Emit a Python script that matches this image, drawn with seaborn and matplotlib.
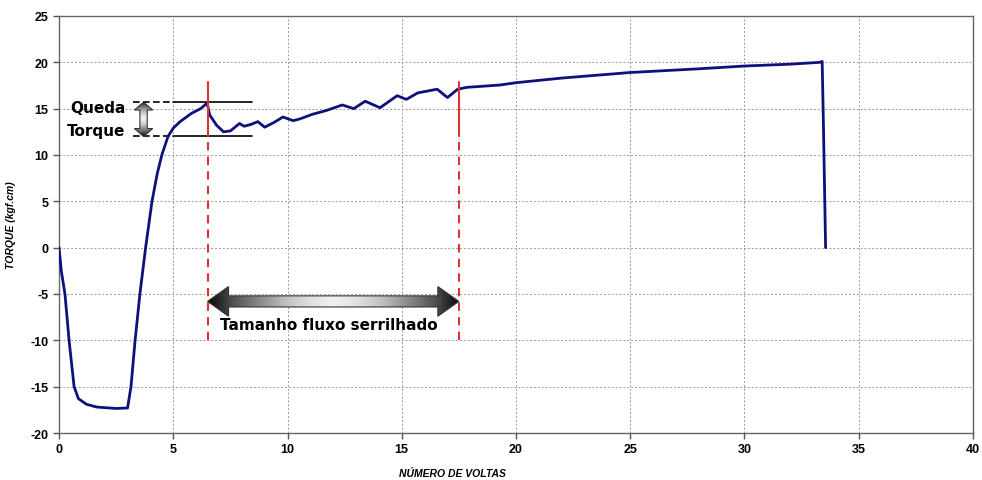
import numpy as np
import pandas as pd
import matplotlib
matplotlib.use("Agg")
import matplotlib.pyplot as plt
from matplotlib.patches import Polygon
import seaborn as sns

# ----------------------------------------------------------
# Data
# ----------------------------------------------------------
voltas = [0, 0.1, 0.26, 0.44, 0.66, 0.85, 1.2, 1.65, 2.5, 3.0, 3.15, 3.33, 3.54,
          3.79, 4.07, 4.3, 4.5, 4.77, 5.0, 5.3, 5.8, 6.2, 6.48, 6.6, 6.9, 7.2,
          7.5, 7.9, 8.1, 8.4, 8.7, 9.0, 9.4, 9.8, 10.25, 10.55, 11.1, 11.7, 12.4,
          12.9, 13.4, 14.05, 14.8, 15.2, 15.7, 16.55, 17.0, 17.45, 17.85, 19.3,
          20, 22, 25, 28, 30, 32, 33.3, 33.4, 33.45, 33.55]
torque = [0, -2.5, -5, -10, -15, -16.3, -16.9, -17.2, -17.35, -17.3, -15, -10, -5,
          0, 5, 8, 10, 12, 12.9, 13.6, 14.5, 15.0, 15.6, 14.3, 13.2, 12.5,
          12.6, 13.4, 13.1, 13.3, 13.6, 13.0, 13.5, 14.1, 13.7, 13.9, 14.4, 14.8, 15.4,
          15.0, 15.8, 15.1, 16.4, 16.0, 16.7, 17.1, 16.2, 17.1, 17.3, 17.55,
          17.8, 18.3, 18.9, 19.3, 19.6, 19.8, 20.0, 20.1, 14, 0]

df = pd.DataFrame({"voltas": voltas, "torque": torque})

# annotation values
serr_start = 6.5
serr_end = 17.5
red_top = 17.9
red_mid = 12.0
red_bottom = -10.0
queda_high = 15.7
queda_low = 12.0
queda_x = 3.7
arrow_y = -5.8

x_ticks = list(range(0, 41, 5))
y_ticks = list(range(-20, 26, 5))

# ----------------------------------------------------------
# Style
# ----------------------------------------------------------
sns.set_style("white")
plt.rcParams["font.family"] = ["Liberation Sans Narrow", "Liberation Sans", "DejaVu Sans"]
plt.rcParams["axes.unicode_minus"] = False
plt.rcParams["text.color"] = "black"
plt.rcParams["axes.labelcolor"] = "black"
plt.rcParams["xtick.color"] = "black"
plt.rcParams["ytick.color"] = "black"

fig = plt.figure(figsize=(9.82, 4.81), dpi=100)
ax = fig.add_axes([0.0601, 0.0977, 0.9307, 0.867])

sns.lineplot(data=df, x="voltas", y="torque", sort=False, estimator=None,
             color="#10107a", linewidth=2.0, ax=ax, zorder=5)

ax.set_xlim(0, 40)
ax.set_ylim(-20, 25)
ax.set_xticks(x_ticks)
ax.set_yticks(y_ticks)
ax.grid(True, color="#999999", linestyle=(0, (2, 2)), linewidth=0.7)
for s in ax.spines.values():
    s.set_color("#666666")
    s.set_linewidth(1.0)
ax.tick_params(axis="both", direction="out", length=4, width=1, color="#555555",
               labelsize=9, bottom=True, left=True, labelcolor="black")
for lab in ax.get_xticklabels() + ax.get_yticklabels():
    lab.set_fontweight("bold")

ax.set_xlabel("NÚMERO DE VOLTAS", fontsize=7.5, fontweight="bold", style="italic")
ax.set_ylabel("TORQUE (kgf.cm)", fontsize=7.5, fontweight="bold", style="italic")
ax.xaxis.set_label_coords(0.43, -0.085)
ax.yaxis.set_label_coords(-0.047, 0.5)

# ----------------------------------------------------------
# Annotations
# ----------------------------------------------------------
red = "#e03030"
for xv in [serr_start, serr_end]:
    ax.plot([xv, xv], [red_mid, red_top], color=red, lw=1.5, zorder=6)
    ax.plot([xv, xv], [red_bottom, red_mid], color=red, lw=1.5,
            linestyle=(0, (4, 3)), zorder=6)

for yv in [queda_high, queda_low]:
    ax.plot([3.25, 5.0], [yv, yv], color="black", lw=1.2, linestyle=(0, (4, 2)), zorder=4)
    ax.plot([5.0, 8.45], [yv, yv], color="black", lw=1.2, zorder=4)


def grad_arrow(pts, extent, horizontal):
    poly = Polygon(pts, closed=True, facecolor="none", edgecolor="#333333",
                   lw=0.8, zorder=7)
    ax.add_patch(poly)
    t = np.linspace(-1, 1, 256)
    g = np.abs(t) ** 1.3
    g = np.vstack([g, g])
    if not horizontal:
        g = g.T
    img = ax.imshow(g, cmap="Greys", vmin=-0.15, vmax=1.05, aspect="auto",
                    extent=extent, zorder=6)
    img.set_clip_path(poly)


# vertical gray arrow (Queda Torque)
vw = 0.4
vs = 0.16
vh = 0.85
v_pts = [
    (queda_x, queda_high),
    (queda_x + vw, queda_high - vh),
    (queda_x + vs, queda_high - vh),
    (queda_x + vs, queda_low + vh),
    (queda_x + vw, queda_low + vh),
    (queda_x, queda_low),
    (queda_x - vw, queda_low + vh),
    (queda_x - vs, queda_low + vh),
    (queda_x - vs, queda_high - vh),
    (queda_x - vw, queda_high - vh),
]
grad_arrow(v_pts, [queda_x - vw, queda_x + vw, queda_low, queda_high], False)

ax.text(2.9, 15.1, "Queda", ha="right", va="center", fontsize=11,
        fontweight="bold", family="DejaVu Sans")
ax.text(2.9, 12.6, "Torque", ha="right", va="center", fontsize=11,
        fontweight="bold", family="DejaVu Sans")

# horizontal double arrow (Tamanho fluxo serrilhado)
hl = 0.92
hw = 1.6
sw = 0.6
h_pts = [
    (serr_start, arrow_y),
    (serr_start + hl, arrow_y + hw),
    (serr_start + hl, arrow_y + sw),
    (serr_end - hl, arrow_y + sw),
    (serr_end - hl, arrow_y + hw),
    (serr_end, arrow_y),
    (serr_end - hl, arrow_y - hw),
    (serr_end - hl, arrow_y - sw),
    (serr_start + hl, arrow_y - sw),
    (serr_start + hl, arrow_y - hw),
]
grad_arrow(h_pts, [serr_start, serr_end, arrow_y - hw, arrow_y + hw], True)

ax.set_xlim(0, 40)
ax.set_ylim(-20, 25)

ax.text((serr_start + serr_end) / 2 - 0.2, -8.3, "Tamanho fluxo serrilhado",
        ha="center", va="center", fontsize=11, fontweight="bold",
        family="DejaVu Sans")

fig.savefig("out.png", dpi=100)
